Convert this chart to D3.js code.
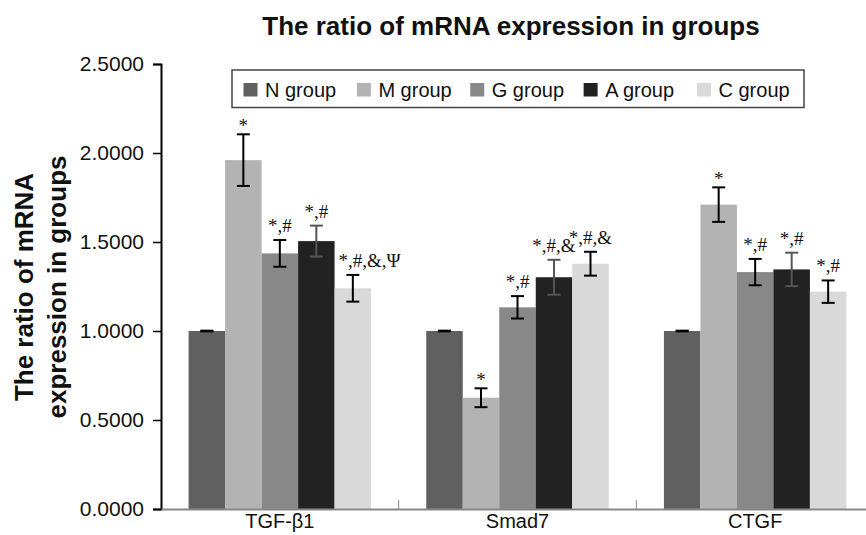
<!DOCTYPE html>
<html><head><meta charset="utf-8">
<script src="https://cdn.jsdelivr.net/npm/d3@7"></script>
<style>body{margin:0;background:#fff}svg{display:block}</style>
</head><body>
<svg id="chart" width="866" height="535"></svg>
<script>
const categories = ["TGF-\u03b21", "Smad7", "CTGF"];
const groups = ["N group", "M group", "G group", "A group", "C group"];
const colors = ["#606060", "#b3b3b3", "#888888", "#222222", "#d9d9d9"];
const errColors = ["#000000", "#000000", "#000000", "#555555", "#000000"];
const nValues = [1.0, 1.0, 1.0];
const mValues = [1.96, 0.625, 1.71];
const gValues = [1.436, 1.133, 1.331];
const aValues = [1.505, 1.302, 1.346];
const cValues = [1.24, 1.378, 1.221];
const nErr = [0.002, 0.002, 0.002];
const mErr = [0.145, 0.053, 0.097];
const gErr = [0.075, 0.063, 0.074];
const aErr = [0.087, 0.098, 0.094];
const cErr = [0.075, 0.067, 0.063];
const nMarks = ["", "", ""];
const mMarks = ["*", "*", "*"];
const gMarks = ["*,#", "*,#", "*,#"];
const aMarks = ["*,#", "*,#,&", "*,#"];
const cMarks = ["*,#,&,\u03a8", "*,#,&", "*,#"];
const yTicks = [0, 0.5, 1.0, 1.5, 2.0, 2.5];
const title = "The ratio of mRNA expression in groups";
const yLabelLines = ["The ratio of mRNA", "expression in groups"];

const seriesValues = [nValues, mValues, gValues, aValues, cValues];
const seriesErr = [nErr, mErr, gErr, aErr, cErr];
const seriesMarks = [nMarks, mMarks, gMarks, aMarks, cMarks];

const svg = d3.select("#chart");
const sans = "'Liberation Sans', Arial, sans-serif";
const serif = "'Liberation Serif', 'Times New Roman', serif";

const x0 = d3.scaleBand().domain(categories).range([161, 874]).paddingInner(0).paddingOuter(0);
const x1 = d3.scaleBand().domain(groups).range([0, x0.bandwidth()]).paddingInner(0).paddingOuter(0.756);
const y = d3.scaleLinear().domain([0, 2.5]).range([509, 64]);

// title
svg.append("text").attr("x", 511).attr("y", 35).attr("text-anchor", "middle")
  .attr("font-family", sans).attr("font-weight", "bold").attr("font-size", 26).attr("fill", "#111")
  .text(title);

// y label
const yl = svg.append("text").attr("transform", "translate(33,287) rotate(-90)")
  .attr("text-anchor", "middle").attr("font-family", sans).attr("font-weight", "bold")
  .attr("font-size", 26).attr("fill", "#111");
yLabelLines.forEach((t, i) => yl.append("tspan").attr("x", 0).attr("dy", i === 0 ? 0 : 33).text(t));

// bars
const rows = [];
groups.forEach((g, gi) => categories.forEach((c, ci) => rows.push({
  g, gi, c, v: seriesValues[gi][ci], e: seriesErr[gi][ci], m: seriesMarks[gi][ci]
})));

const barG = svg.append("g");
barG.selectAll("rect").data(rows).join("rect")
  .attr("x", d => x0(d.c) + x1(d.g))
  .attr("y", d => y(d.v))
  .attr("width", x1.bandwidth())
  .attr("height", d => y(0) - y(d.v))
  .attr("fill", d => colors[d.gi]);

// error bars
const capHalf = 6.5;
const eg = svg.append("g").attr("stroke-width", 2).attr("fill", "none");
rows.forEach(d => {
  const cx = x0(d.c) + x1(d.g) + x1.bandwidth() / 2;
  const col = errColors[d.gi];
  eg.append("line").attr("x1", cx).attr("x2", cx).attr("y1", y(d.v + d.e)).attr("y2", y(d.v - d.e)).attr("stroke", col);
  eg.append("line").attr("x1", cx - capHalf).attr("x2", cx + capHalf).attr("y1", y(d.v + d.e)).attr("y2", y(d.v + d.e)).attr("stroke", col);
  eg.append("line").attr("x1", cx - capHalf).attr("x2", cx + capHalf).attr("y1", y(d.v - d.e)).attr("y2", y(d.v - d.e)).attr("stroke", col);
});

// significance marks (long labels start near the bar's left edge, short ones are centred)
const mk = svg.append("g").selectAll("text").data(rows.filter(d => d.m)).join("text")
  .attr("y", d => y(d.v + d.e) - (d.m === "*" ? 2 : 8))
  .attr("font-family", serif).attr("font-size", 19).attr("fill", "#111")
  .text(d => d.m);
mk.each(function(d) {
  const w = this.getComputedTextLength();
  const bx = x0(d.c) + x1(d.g);
  if (w > x1.bandwidth() + 10) {
    d3.select(this).attr("x", bx + 4).attr("text-anchor", "start");
  } else {
    d3.select(this).attr("x", bx + x1.bandwidth() / 2).attr("text-anchor", "middle");
  }
});

// y axis
const yAxis = d3.axisLeft(y).tickValues(yTicks).tickFormat(d3.format(".4f")).tickSizeOuter(0).tickSize(8).tickPadding(9);
const ya = svg.append("g").attr("transform", "translate(161,0)").call(yAxis);
ya.select(".domain").attr("stroke", "#000").attr("stroke-width", 2);
ya.selectAll(".tick line").attr("stroke", "#000").attr("stroke-width", 1.5);
ya.selectAll(".tick text").attr("font-family", sans).attr("font-size", 21).attr("fill", "#111");

// x axis
const xa = svg.append("g").attr("transform", "translate(0,509)").call(d3.axisBottom(x0).tickSize(0).tickPadding(5).tickSizeOuter(0));
xa.select(".domain").attr("stroke", "#888").attr("stroke-width", 2);
xa.selectAll(".tick text").attr("font-family", sans).attr("font-size", 20).attr("fill", "#111");
// category boundary ticks
svg.append("g").selectAll("line").data(categories.slice(1)).join("line")
  .attr("x1", d => x0(d)).attr("x2", d => x0(d)).attr("y1", y(0) - 9).attr("y2", y(0))
  .attr("stroke", "#888").attr("stroke-width", 1);

// legend
const lg = svg.append("g");
lg.append("rect").attr("x", 232).attr("y", 70).attr("width", 572).attr("height", 37.5)
  .attr("fill", "#fff").attr("stroke", "#444").attr("stroke-width", 1.5);
const legendX = d3.scalePoint().domain(groups).range([243.5, 697]);
groups.forEach((g, i) => {
  lg.append("rect").attr("x", legendX(g)).attr("y", 83).attr("width", 14).attr("height", 13.5).attr("fill", colors[i]);
  lg.append("text").attr("x", legendX(g) + 21.5).attr("y", 97).attr("font-family", sans)
    .attr("font-size", 20).attr("fill", "#111").text(g);
});
</script>
</body></html>
